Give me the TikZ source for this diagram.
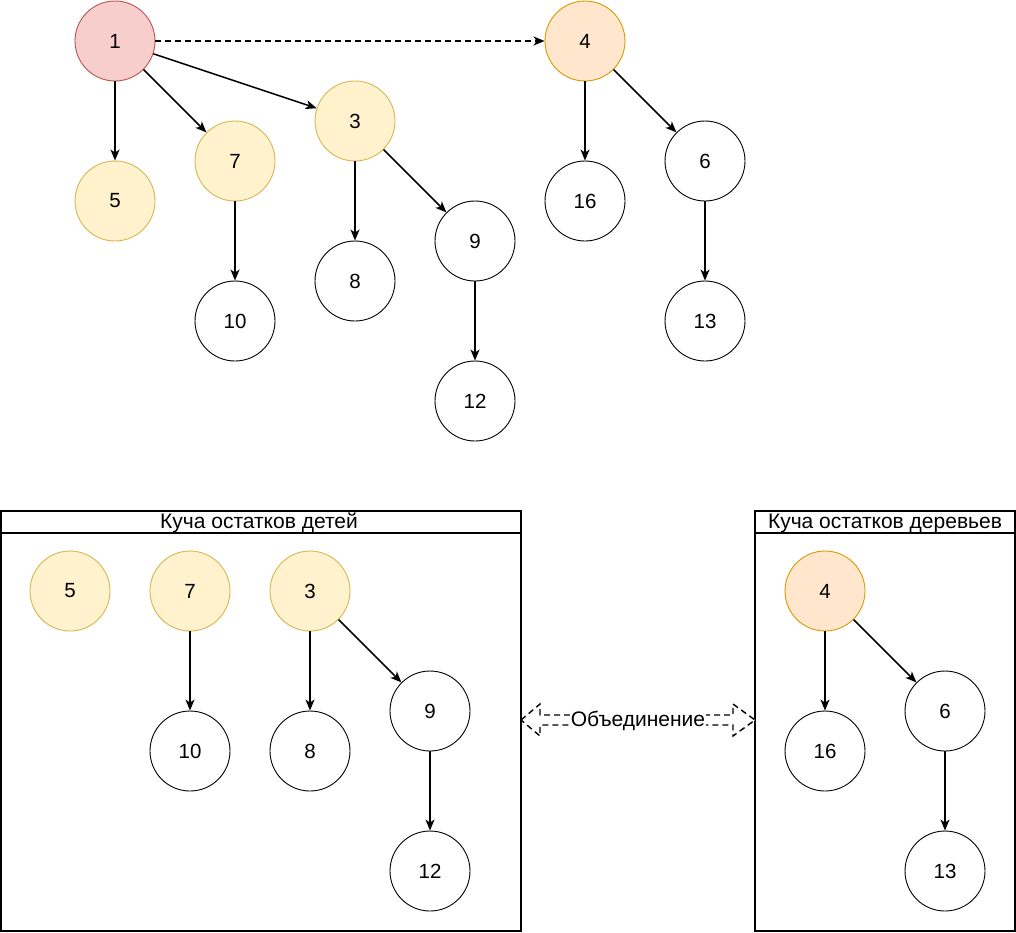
\documentclass[tikz,border=0pt]{standalone}
\usepackage{fontspec}
\setmainfont{Liberation Sans}
\usetikzlibrary{arrows.meta,calc}
\definecolor{redfill}{HTML}{F8CECC}
\definecolor{redline}{HTML}{B85450}
\definecolor{orfill}{HTML}{FFE6CC}
\definecolor{orline}{HTML}{D79B00}
\definecolor{yfill}{HTML}{FFF2CC}
\definecolor{yline}{HTML}{D6B656}
\tikzset{
  vtx/.style={circle, draw=black, line width=0.9pt, minimum size=80pt, inner sep=0pt, font=\fontsize{20.5}{24}\selectfont},
  rootv/.style={vtx, fill=redfill, draw=redline},
  orv/.style={vtx, fill=orfill, draw=orline},
  yv/.style={vtx, fill=yfill, draw=yline},
  edge/.style={line width=1.5pt, -{Stealth[length=11pt,width=9pt,inset=3pt]}},
  dedge/.style={edge, dash pattern=on 6pt off 4pt},
  frame/.style={draw=black, line width=1.1pt},
  ttl/.style={font=\fontsize{21}{24}\selectfont, inner sep=0pt},
}
\begin{document}
\begin{tikzpicture}[x=1pt,y=-1pt]
\useasboundingbox (0,0) rectangle (1016,932);
% top tree
\node[rootv] (t1) at (115,41) {1};
\node[orv] (t4) at (585,41) {4};
\node[yv] (t5) at (115,201) {5};
\node[yv] (t7) at (235,161) {7};
\node[yv] (t3) at (355,121) {3};
\node[vtx] (t10) at (235,321) {10};
\node[vtx] (t8) at (355,281) {8};
\node[vtx] (t9) at (475,241) {9};
\node[vtx] (t12) at (475,401) {12};
\node[vtx] (t16) at (585,201) {16};
\node[vtx] (t6) at (705,161) {6};
\node[vtx] (t13) at (705,321) {13};
\draw[edge] (t1) -- (t5);
\draw[edge] (t1) -- (t7);
\draw[edge] (t1) -- (t3);
\draw[dedge] (t1) -- (t4);
\draw[edge] (t7) -- (t10);
\draw[edge] (t3) -- (t8);
\draw[edge] (t3) -- (t9);
\draw[edge] (t9) -- (t12);
\draw[edge] (t4) -- (t16);
\draw[edge] (t4) -- (t6);
\draw[edge] (t6) -- (t13);
% left box
\draw[frame] (1,511) rectangle (521,931);
\draw[frame] (1,533) -- (521,533);
\node[ttl] (lt) at (259,523) {Куча остатков детей};
\node[yv] (b5) at (70,591) {5};
\node[yv] (b7) at (190,591) {7};
\node[yv] (b3) at (310,591) {3};
\node[vtx] (b10) at (190,751) {10};
\node[vtx] (b8) at (310,751) {8};
\node[vtx] (b9) at (430,711) {9};
\node[vtx] (b12) at (430,871) {12};
\draw[edge] (b7) -- (b10);
\draw[edge] (b3) -- (b8);
\draw[edge] (b3) -- (b9);
\draw[edge] (b9) -- (b12);
% right box
\draw[frame] (755,511) rectangle (1015,931);
\draw[frame] (755,533) -- (1015,533);
\node[ttl] (rt) at (885,523) {Куча остатков деревьев};
\node[orv] (c4) at (825,591) {4};
\node[vtx] (c16) at (825,751) {16};
\node[vtx] (c6) at (945,711) {6};
\node[vtx] (c13) at (945,871) {13};
\draw[edge] (c4) -- (c16);
\draw[edge] (c4) -- (c6);
\draw[edge] (c6) -- (c13);
% union double arrow
\coordinate (ua) at (521,720);
\coordinate (ub) at (755,720);
\draw[line width=1.4pt, dash pattern=on 6pt off 4pt, fill=white]
  (ua) -- ++(19,-16) -- ++(0,11) -- ($(ub)+(-22,-5)$) -- ++(0,-11) -- (ub)
  -- ++(-22,16) -- ++(0,-11) -- ($(ua)+(19,5)$) -- ++(0,11) -- cycle;
\node[ttl, fill=white, inner sep=1pt] (ul) at (638,721) {Объединение};
\end{tikzpicture}
\end{document}
